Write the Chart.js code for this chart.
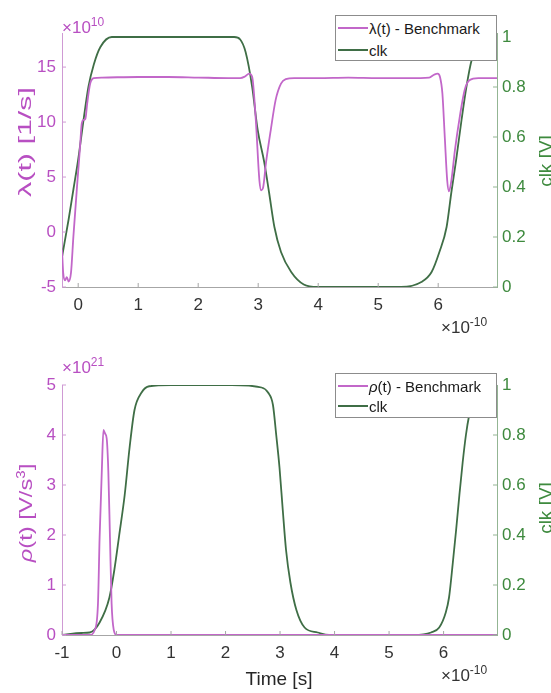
<!doctype html>
<html lang="en">
  <head>
    <title>Benchmark vs clk</title>
    <meta charset="utf-8" />
    <style>
      body { margin: 0; background: #fff; font-family: "Liberation Sans", Arial, sans-serif; }
      #wrap { position: relative; width: 551px; height: 693px; overflow: hidden; background: #fff; }
      .pane { position: absolute; left: 0; width: 551px; }
      .lbl { position: absolute; white-space: nowrap; line-height: 1; }
      .ylab { transform: translate(-50%, -50%) rotate(-90deg); font-size: 19px; }
      .mult { font-size: 17px; }
      .mult sup { font-size: 12px; vertical-align: 7px; }
      .legend {
        position: absolute; background: #fff; border: 1px solid #8c8c8c;
        font-size: 15px; color: #1a1a1a; box-sizing: border-box;
      }
      .legend .row { position: absolute; left: 2px; height: 20px; display: flex; align-items: center; }
      .legend .swatch { width: 30px; height: 2px; margin-right: 1px; }
    </style>
  </head>

  <body>
    <div id="wrap">
      <div class="pane" style="top:0;height:340px"><canvas id="lambda-chart"></canvas></div>
      <div class="pane" style="top:340px;height:353px"><canvas id="rho-chart"></canvas></div>

      <!-- top panel texts -->
      <div class="lbl mult" style="left:62px;top:16px;color:#b84fc2">×10<sup>10</sup></div>
      <div class="lbl ylab" style="left:24px;top:142px;color:#b84fc2;transform:translate(-50%,-50%) rotate(-90deg) scaleX(1.6)">λ(t) [1/s]</div>
      <div class="lbl ylab" style="left:545px;top:161px;color:#3e8a3e">clk [V]</div>
      <div class="lbl mult" style="left:441px;top:316px;color:#333">×10<sup>-10</sup></div>
      <div class="legend" style="left:335px;top:15px;width:162px;height:46px">
        <div class="row" style="top:2px"><div class="swatch" style="background:#c267c9"></div>λ(t) - Benchmark</div>
        <div class="row" style="top:24px"><div class="swatch" style="background:#3f6e46"></div>clk</div>
      </div>

      <!-- bottom panel texts -->
      <div class="lbl mult" style="left:62px;top:356px;color:#b84fc2">×10<sup>21</sup></div>
      <div class="lbl ylab" style="left:25px;top:513px;color:#b84fc2;transform:translate(-50%,-50%) rotate(-90deg) scaleX(1.25)"><i>ρ</i>(t) [V/s<sup style="font-size:12px;vertical-align:7px">3</sup>]</div>
      <div class="lbl ylab" style="left:545px;top:508px;color:#3e8a3e">clk [V]</div>
      <div class="lbl" style="left:279px;top:678px;transform:translate(-50%,-50%);font-size:19px;color:#262626">Time [s]</div>
      <div class="lbl mult" style="left:441px;top:664px;color:#333">×10<sup>-10</sup></div>
      <div class="legend" style="left:335px;top:373px;width:162px;height:45px">
        <div class="row" style="top:2px"><div class="swatch" style="background:#c267c9"></div><i>ρ</i>(t) - Benchmark</div>
        <div class="row" style="top:22px"><div class="swatch" style="background:#3f6e46"></div>clk</div>
      </div>
    </div>

    <script src="https://cdn.jsdelivr.net/npm/chart.js@4.4.1/dist/chart.umd.js"></script>
    <script>
      // time axis in units of 1e-10 s
      // top panel: lambda(t) in units of 1e10 1/s, clk in V
      const lambdaT = [-0.27, -0.25, -0.22, -0.19, -0.16, -0.12, -0.08, -0.02, 0.03, 0.06, 0.09, 0.12, 0.15, 0.2, 0.26, 0.4,
        1.0, 1.5, 2.0, 2.5, 2.7, 2.78, 2.85, 2.9, 2.96, 3.02, 3.05, 3.08, 3.13, 3.21, 3.29, 3.38, 3.46, 3.6,
        4.0, 4.5, 5.0, 5.5, 5.85, 5.93, 5.99, 6.03, 6.07, 6.11, 6.15, 6.18, 6.22, 6.28, 6.36, 6.44, 6.52, 6.67, 7.0];
      const lambdaV = [-1.6, -3.7, -4.4, -4.1, -4.5, -3.7, -0.4, 4.1, 7.7, 9.9, 10.2, 10.3, 11.7, 13.5, 14.0, 14.05,
        14.1, 14.1, 14.05, 14.0, 14.0, 14.15, 14.4, 14.1, 10.2, 4.7, 3.8, 4.0, 6.3, 9.3, 12.0, 13.5, 13.9, 14.0,
        14.0, 14.05, 14.0, 14.0, 14.05, 14.3, 14.4, 14.1, 12.6, 8.6, 4.7, 3.7, 4.7, 7.5, 10.5, 12.9, 13.8, 14.0, 14.0];
      const clkTopT = [-0.27, -0.16, -0.08, 0.0, 0.09, 0.17, 0.26, 0.37, 0.56, 0.9, 2.0, 2.6, 2.7, 2.79, 2.9, 2.99, 3.1,
        3.18, 3.27, 3.38, 3.55, 3.76, 3.99, 5.0, 5.38, 5.72, 5.89, 6.02, 6.14, 6.22, 6.3, 6.39, 6.47, 6.56, 6.68, 6.85, 7.0];
      const clkTopV = [0.12, 0.27, 0.39, 0.51, 0.67, 0.8, 0.89, 0.96, 1.0, 1.0, 1.0, 1.0, 0.99, 0.94, 0.8, 0.63, 0.5,
        0.38, 0.24, 0.14, 0.06, 0.01, 0, 0, 0, 0.02, 0.06, 0.14, 0.24, 0.38, 0.51, 0.67, 0.8, 0.91, 0.97, 1.0, 1.0];

      // bottom panel: rho(t) in units of 1e21 V/s^3, clk in V
      const rhoT = [-1, -0.49, -0.4, -0.34, -0.31, -0.27, -0.24, -0.21, -0.18, -0.15, -0.12, -0.09, -0.05, 0, 7];
      const rhoV = [0, 0, 0.1, 0.63, 1.95, 3.27, 4.1, 4.03, 3.93, 3.27, 1.95, 0.63, 0.1, 0, 0];
      const clkBotT = [-1, -0.64, -0.49, -0.31, -0.13, -0.04, 0.05, 0.15, 0.24, 0.33, 0.46, 0.6, 1.0, 2.11, 2.66, 2.78,
        2.87, 2.93, 2.99, 3.05, 3.11, 3.19, 3.3, 3.45, 3.69, 3.9, 5.0, 5.46, 5.77, 5.92, 6.04, 6.1, 6.17, 6.23, 6.29,
        6.35, 6.41, 6.47, 6.55, 6.65, 6.8, 7.0];
      const clkBotV = [0, 0.008, 0.01, 0.05, 0.15, 0.26, 0.4, 0.56, 0.75, 0.9, 0.97, 0.995, 1.0, 1.0, 0.99, 0.97,
        0.92, 0.8, 0.67, 0.5, 0.34, 0.21, 0.1, 0.03, 0.01, 0, 0, 0, 0.01, 0.03, 0.09, 0.15, 0.29, 0.42, 0.56,
        0.69, 0.8, 0.88, 0.95, 0.99, 1.0, 1.0];

      const purple = "#b84fc2";
      const lineMagenta = "#c267c9";
      const lineGreen = "#3f6e46";
      const green = "#3e8a3e";

      Chart.defaults.font.family = '"Liberation Sans", Arial, sans-serif';
      Chart.defaults.font.size = 17;

      function pts(xs, ys) {
        return xs.map((x, i) => ({ x: x, y: ys[i] }));
      }

      // small inward tick marks, MATLAB style
      const innerTicks = {
        id: "innerTicks",
        afterDraw(chart) {
          const ctx = chart.ctx;
          const area = chart.chartArea;
          ctx.save();
          ctx.lineWidth = 1;
          Object.values(chart.scales).forEach((s) => {
            ctx.strokeStyle = s.options.border.color;
            s.ticks.forEach((t) => {
              const p = s.getPixelForValue(t.value);
              ctx.beginPath();
              if (s.axis === "x") {
                ctx.moveTo(p, area.bottom);
                ctx.lineTo(p, area.bottom - 4);
              } else if (s.position === "left") {
                ctx.moveTo(area.left, p);
                ctx.lineTo(area.left + 4, p);
              } else {
                ctx.moveTo(area.right, p);
                ctx.lineTo(area.right - 4, p);
              }
              ctx.stroke();
            });
          });
          ctx.restore();
        },
      };

      function makeChart(id, cfg) {
        return new Chart(document.getElementById(id), {
          type: "line",
          data: {
            datasets: [
              {
                label: cfg.name,
                data: pts(cfg.t1, cfg.v1),
                yAxisID: "y",
                borderColor: lineMagenta,
                borderWidth: 1.8,
                pointRadius: 0,
                cubicInterpolationMode: "monotone",
              },
              {
                label: "clk",
                data: pts(cfg.t2, cfg.v2),
                yAxisID: "y1",
                borderColor: lineGreen,
                borderWidth: 1.8,
                pointRadius: 0,
                cubicInterpolationMode: "monotone",
              },
            ],
          },
          options: {
            responsive: true,
            maintainAspectRatio: false,
            animation: false,
            layout: { padding: { top: cfg.top, left: 0, right: 0, bottom: 0 } },
            plugins: { legend: { display: false }, tooltip: { enabled: false } },
            scales: {
              x: {
                type: "linear",
                min: cfg.xmin,
                max: 6.98,
                ticks: { stepSize: 1, includeBounds: false, color: "#333", padding: 8, maxRotation: 0 },
                grid: { display: true, drawOnChartArea: false, drawTicks: false },
                border: { color: "#a6a6a6" },
                afterFit: (s) => { s.height = cfg.xh; },
              },
              y: {
                position: "left",
                min: cfg.ymin,
                max: cfg.ymax,
                ticks: { stepSize: cfg.ystep, includeBounds: false, color: purple, padding: 6 },
                grid: { display: true, drawOnChartArea: false, drawTicks: false },
                border: { color: "#cf9ad4" },
                afterFit: (s) => { s.width = 62; },
              },
              y1: {
                position: "right",
                min: 0,
                max: cfg.y1max,
                ticks: {
                  stepSize: 0.2,
                  includeBounds: false,
                  color: green,
                  padding: 5,
                  callback: (v) => String(Number(v.toFixed(1))),
                },
                grid: { display: true, drawOnChartArea: false, drawTicks: false },
                border: { color: "#93b593" },
                afterFit: (s) => { s.width = 54; },
              },
            },
          },
          plugins: [innerTicks],
        });
      }

      makeChart("lambda-chart", {
        name: "λ(t) - Benchmark",
        t1: lambdaT, v1: lambdaV, t2: clkTopT, v2: clkTopV,
        xmin: -0.27, ymin: -5, ymax: 18.1, ystep: 5, y1max: 1.016,
        top: 33, xh: 53,
      });

      makeChart("rho-chart", {
        name: "ρ(t) - Benchmark",
        t1: rhoT, v1: rhoV, t2: clkBotT, v2: clkBotV,
        xmin: -1, ymin: 0, ymax: 5, ystep: 1, y1max: 1,
        top: 45, xh: 58,
      });
    </script>
  </body>
</html>
